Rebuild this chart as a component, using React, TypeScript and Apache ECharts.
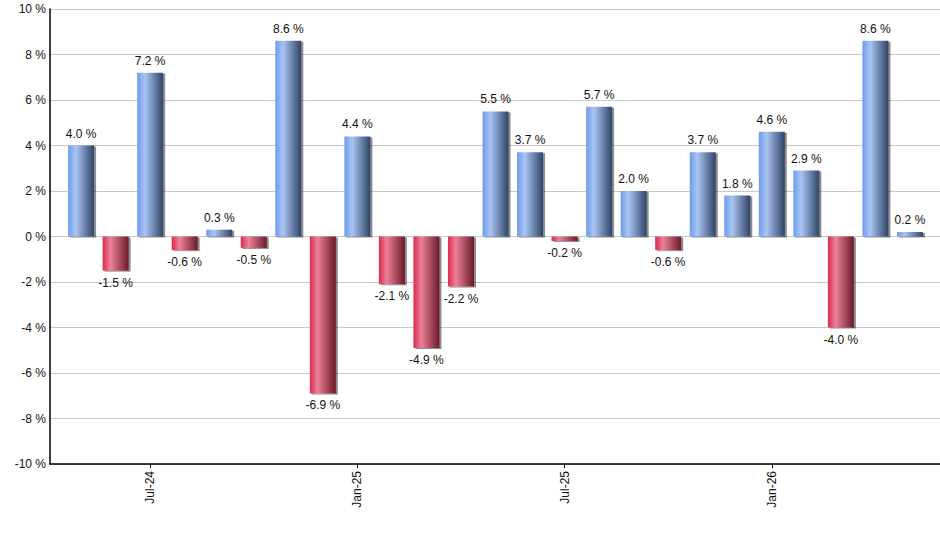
import { useEffect, useRef } from "react"
import * as echarts from "echarts"

const months = [
  "May-24", "Jun-24", "Jul-24", "Aug-24", "Sep-24", "Oct-24", "Nov-24", "Dec-24",
  "Jan-25", "Feb-25", "Mar-25", "Apr-25", "May-25", "Jun-25", "Jul-25", "Aug-25",
  "Sep-25", "Oct-25", "Nov-25", "Dec-25", "Jan-26", "Feb-26", "Mar-26", "Apr-26", "May-26",
]
const returns = [
  4.0, -1.5, 7.2, -0.6, 0.3, -0.5, 8.6, -6.9, 4.4, -2.1, -4.9, -2.2, 5.5,
  3.7, -0.2, 5.7, 2.0, -0.6, 3.7, 1.8, 4.6, 2.9, -4.0, 8.6, 0.2,
]
const labelIdx = [2, 8, 14, 20]

const blueGrad = new echarts.graphic.LinearGradient(0, 0, 1, 0, [
  { offset: 0, color: "#6e9bec" },
  { offset: 0.3, color: "#aac5f3" },
  { offset: 1, color: "#2f4366" },
])
const redGrad = new echarts.graphic.LinearGradient(0, 0, 1, 0, [
  { offset: 0, color: "#dc2a4c" },
  { offset: 0.3, color: "#ec8199" },
  { offset: 1, color: "#6b1a28" },
])

export default function App() {
  const chartRef = useRef<HTMLDivElement>(null)

  useEffect(() => {
    if (!chartRef.current) return
    const chart = echarts.init(chartRef.current, null, { renderer: "svg" })
    const font = "'Liberation Sans', Arial, sans-serif"

    chart.setOption({
      animation: false,
      grid: { left: 50, right: 0, top: 9, bottom: 86 },
      xAxis: {
        type: "value",
        min: -0.9,
        max: 24.87,
        splitLine: { show: false },
        axisLine: { onZero: false, lineStyle: { color: "#000", width: 1.5 } },
        axisTick: {
          show: true,
          length: 4,
          customValues: labelIdx,
          lineStyle: { color: "#000" },
        },
        axisLabel: {
          customValues: labelIdx,
          rotate: 90,
          margin: 7,
          color: "#111",
          fontSize: 12,
          fontFamily: font,
          formatter: (v: number) => months[Math.round(v)] ?? "",
        },
      },
      yAxis: {
        type: "value",
        min: -10,
        max: 10,
        interval: 2,
        axisLine: { show: true, onZero: false, lineStyle: { color: "#000", width: 1.5 } },
        axisTick: { show: false },
        splitLine: { lineStyle: { color: "#c8c8c8" } },
        axisLabel: {
          margin: 4,
          color: "#111",
          fontSize: 12,
          fontFamily: font,
          formatter: (v: number) => `${v} %`,
        },
      },
      series: [
        {
          type: "bar",
          barWidth: 26,
          data: returns.map((v, i) => ({
            value: [i, v],
            itemStyle: {
              color: v >= 0 ? blueGrad : redGrad,
              shadowColor: "rgba(0,0,0,0.45)",
              shadowOffsetX: 2,
              shadowOffsetY: 1,
              shadowBlur: 1,
            },
            label: {
              show: true,
              position: v >= 0 ? "top" : "bottom",
              distance: 6,
              color: "#111",
              fontSize: 12,
              fontFamily: font,
              formatter: `${v.toFixed(1)} %`,
            },
          })),
        },
      ],
    })

    return () => {
      chart.dispose()
    }
  }, [])

  return (
    <div
      ref={chartRef}
      style={{ position: "absolute", left: 0, top: 0, width: 940, height: 550 }}
    />
  )
}
